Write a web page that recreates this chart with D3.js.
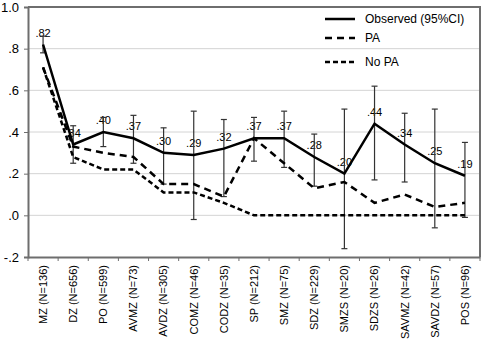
<!DOCTYPE html>
<html>
<head>
<meta charset="utf-8">
<script src="https://cdn.jsdelivr.net/npm/d3@7"></script>
<style>
  body { margin: 0; background: #fff; }
  text { font-family: Arial, "Liberation Sans", sans-serif; fill: #000; }
</style>
</head>
<body>
<div id="chart"></div>
<script>
// categories (x axis)
const categories = ["MZ (N=136)", "DZ (N=656)", "PO (N=599)", "AVMZ (N=73)", "AVDZ (N=305)",
    "COMZ (N=46)", "CODZ (N=35)", "SP (N=212)", "SMZ (N=75)", "SDZ (N=229)",
    "SMZS (N=20)", "SDZS (N=26)", "SAVMZ (N=42)", "SAVDZ (N=57)", "POS (N=96)"];

// series
const observed = [0.82, 0.34, 0.40, 0.37, 0.30, 0.29, 0.32, 0.37, 0.37, 0.28, 0.20, 0.44, 0.34, 0.25, 0.19];
const ciLow    = [0.78, 0.25, 0.33, 0.25, 0.15, -0.02, 0.09, 0.26, 0.23, 0.14, -0.16, 0.17, 0.16, -0.06, -0.01];
const ciHigh   = [0.86, 0.43, 0.47, 0.48, 0.42, 0.50, 0.46, 0.47, 0.50, 0.39, 0.51, 0.62, 0.49, 0.51, 0.35];
const pa       = [0.71, 0.33, 0.30, 0.28, 0.15, 0.15, 0.09, 0.37, 0.25, 0.13, 0.16, 0.06, 0.10, 0.04, 0.06];
const noPa     = [0.71, 0.28, 0.22, 0.22, 0.11, 0.11, 0.06, 0.00, 0.00, 0.00, 0.00, 0.00, 0.00, 0.00, 0.00];

// y ticks
const yTicks = [1.0, 0.8, 0.6, 0.4, 0.2, 0.0, -0.2];
const yTickLabels = ["1.0", ".8", ".6", ".4", ".2", ".0", "-.2"];

const legendItems = [
    {name: "Observed (95%CI)", dash: null},
    {name: "PA", dash: "7,5"},
    {name: "No PA", dash: "5,3"}
];

const margin = {top: 7, right: 4, bottom: 83, left: 28},
    width = 484 - margin.left - margin.right,
    height = 340 - margin.top - margin.bottom;

const svg = d3.select("#chart")
    .append("svg")
        .attr("width", 484)
        .attr("height", 340)
    .append("g")
        .attr("transform", `translate(${margin.left},${margin.top})`);

const x = d3.scaleBand()
    .domain(categories)
    .range([0, width])
    .padding(0);

const y = d3.scaleLinear()
    .domain([-0.2, 1.0])
    .range([height, 0]);

const cx = i => x(categories[i]) + x.bandwidth() / 2;

// gridlines
svg.append("g")
    .selectAll("line")
    .data(yTicks.slice(1, -1))
    .join("line")
        .attr("x1", 0)
        .attr("x2", width)
        .attr("y1", d => y(d))
        .attr("y2", d => y(d))
        .attr("stroke", "#d4d4d4")
        .attr("stroke-width", 1);

// frame top/right
svg.append("path")
    .attr("d", `M0,${y(1.0)}H${width}V${height}`)
    .attr("fill", "none")
    .attr("stroke", "#6e6e6e")
    .attr("stroke-width", 2);

// Y axis
const yAxis = svg.append("g")
    .call(d3.axisLeft(y)
        .tickValues(yTicks)
        .tickSize(4)
        .tickFormat((d, i) => yTickLabels[i]));
yAxis.select(".domain").attr("stroke", "#6e6e6e").attr("stroke-width", 2);
yAxis.selectAll(".tick line").attr("stroke", "#6e6e6e");
yAxis.selectAll("text")
    .style("font-size", "13px")
    .style("font-family", "Arial, 'Liberation Sans', sans-serif")
    .attr("fill", "#000")
    .attr("x", -9);

// X axis
const xAxis = svg.append("g")
    .attr("transform", `translate(0, ${height})`)
    .call(d3.axisBottom(x).tickSize(0).tickSizeOuter(0));
xAxis.select(".domain").attr("stroke", "#6e6e6e").attr("stroke-width", 2);
xAxis.selectAll("text")
    .style("font-size", "11px")
    .style("font-family", "Arial, 'Liberation Sans', sans-serif")
    .attr("fill", "#000")
    .attr("transform", "rotate(-90)")
    .attr("text-anchor", "end")
    .attr("dy", "0.35em")
    .attr("x", -8)
    .attr("y", 0);

// boundary ticks
svg.append("g")
    .selectAll("line")
    .data(d3.range(categories.length + 1))
    .join("line")
        .attr("x1", i => i * x.step())
        .attr("x2", i => i * x.step())
        .attr("y1", height)
        .attr("y2", height + 4)
        .attr("stroke", "#6e6e6e")
        .attr("stroke-width", 1);

// data labels
svg.append("g")
    .selectAll("text")
    .data(observed)
    .join("text")
        .attr("x", (d, i) => cx(i))
        .attr("y", d => y(d) - 8)
        .attr("text-anchor", "middle")
        .style("font-size", "11px")
        .attr("fill", "#222")
        .text(d => d.toFixed(2).replace(/^0/, ""));

// error bars
const eb = svg.append("g")
    .attr("stroke", "#333")
    .attr("stroke-width", 1.2);
eb.selectAll(".stem")
    .data(observed)
    .join("line")
        .attr("class", "stem")
        .attr("x1", (d, i) => cx(i))
        .attr("x2", (d, i) => cx(i))
        .attr("y1", (d, i) => y(ciLow[i]))
        .attr("y2", (d, i) => y(ciHigh[i]));
eb.selectAll(".capHi")
    .data(observed)
    .join("line")
        .attr("class", "capHi")
        .attr("x1", (d, i) => cx(i) - 3)
        .attr("x2", (d, i) => cx(i) + 3)
        .attr("y1", (d, i) => y(ciHigh[i]))
        .attr("y2", (d, i) => y(ciHigh[i]));
eb.selectAll(".capLo")
    .data(observed)
    .join("line")
        .attr("class", "capLo")
        .attr("x1", (d, i) => cx(i) - 3)
        .attr("x2", (d, i) => cx(i) + 3)
        .attr("y1", (d, i) => y(ciLow[i]))
        .attr("y2", (d, i) => y(ciLow[i]));

// lines
const line = d3.line()
    .x((d, i) => cx(i))
    .y(d => y(d));

const series = [
    {values: noPa, dash: "5,3"},
    {values: pa, dash: "7,5"},
    {values: observed, dash: null}
];

svg.append("g")
    .selectAll("path")
    .data(series)
    .join("path")
        .attr("d", d => line(d.values))
        .attr("fill", "none")
        .attr("stroke", "#000")
        .attr("stroke-width", 2.5)
        .attr("stroke-dasharray", d => d.dash);

// Legend
const legendY = [12, 31, 55];
const legend = svg.selectAll(".legend")
    .data(legendItems)
    .join("g")
        .attr("class", "legend")
        .attr("transform", (d, i) => `translate(${297},${legendY[i]})`);

legend.append("line")
    .attr("x1", 0)
    .attr("x2", 30)
    .attr("y1", 0)
    .attr("y2", 0)
    .attr("stroke", "#000")
    .attr("stroke-width", 2.5)
    .attr("stroke-dasharray", d => d.dash);

legend.append("text")
    .attr("x", 40)
    .attr("y", 0)
    .attr("dy", "0.35em")
    .style("font-size", "12px")
    .text(d => d.name);
</script>
</body>
</html>
